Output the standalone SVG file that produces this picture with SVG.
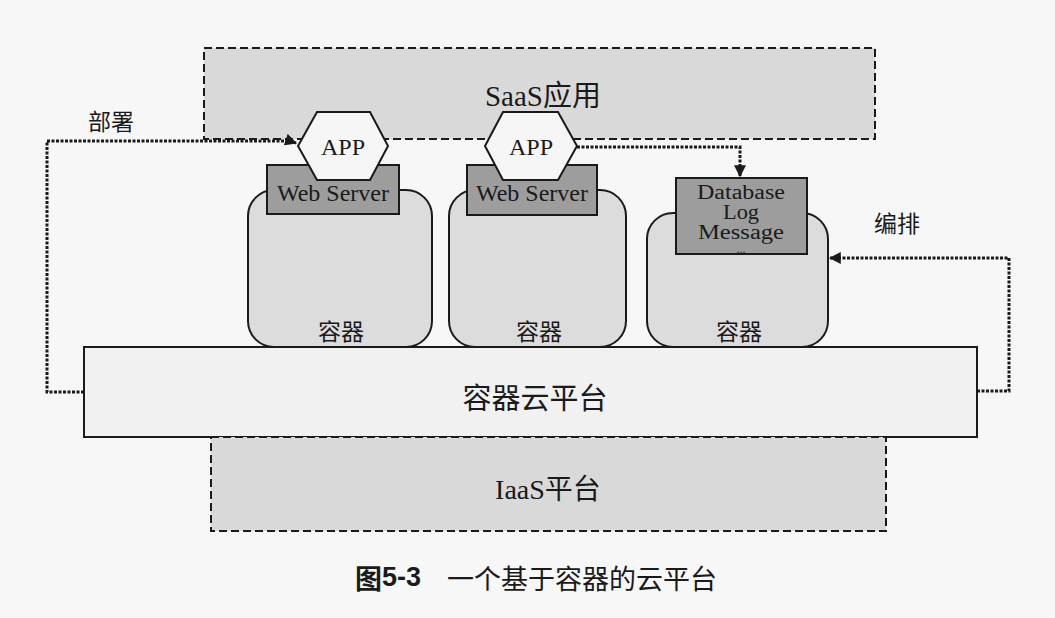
<svg xmlns="http://www.w3.org/2000/svg" width="1055" height="618" viewBox="0 0 1055 618">
  <defs>
    <marker id="arr" viewBox="0 0 10 10" refX="9" refY="5" markerWidth="4" markerHeight="4" orient="auto" markerUnits="strokeWidth">
      <path d="M0,0 L10,5 L0,10 Z" fill="#1a1a1a"/>
    </marker>
  </defs>
  <style>
    text { font-family: "Liberation Serif", "Noto Sans CJK SC", serif; fill: #1a1a1a; text-anchor: middle; dominant-baseline: central; }
    .cjk { font-family: "Noto Sans CJK SC", sans-serif; }
    .start { text-anchor: start; }
    .dash { fill: #d9d9d9; stroke: #1a1a1a; stroke-width: 2; stroke-dasharray: 8 4; }
    .cont { fill: #dcdcdc; stroke: #1a1a1a; stroke-width: 2; }
    .ws { fill: #9d9d9d; stroke: #1a1a1a; stroke-width: 2; }
    .hex { fill: #f6f6f6; stroke: #1a1a1a; stroke-width: 2; }
    .dot { fill: none; stroke: #1a1a1a; stroke-width: 3; stroke-dasharray: 3 1.5; }
    .svc { font-size: 20px; }
  </style>
  <rect width="1055" height="618" fill="#f7f7f7"/>

  <g id="saas">
    <rect class="dash" x="204" y="48" width="671" height="91"/>
    <text x="543" y="96" font-size="29">SaaS应用</text>
  </g>

  <g id="container1">
    <rect class="cont" x="248" y="190" width="184" height="157" rx="26"/>
    <text class="cjk" x="341" y="330" font-size="23">容器</text>
  </g>
  <g id="container2">
    <rect class="cont" x="449" y="190" width="177" height="157" rx="26"/>
    <text class="cjk" x="539" y="330" font-size="23">容器</text>
  </g>
  <g id="container3">
    <rect class="cont" x="647" y="213" width="181" height="134" rx="26"/>
    <text class="cjk" x="739" y="330" font-size="23">容器</text>
  </g>

  <g id="webserver1">
    <rect class="ws" x="267" y="165" width="132" height="49"/>
    <text x="333" y="193" font-size="24">Web Server</text>
  </g>
  <g id="webserver2">
    <rect class="ws" x="467" y="165" width="130" height="50"/>
    <text x="532" y="193" font-size="24">Web Server</text>
  </g>
  <g id="services">
    <rect class="ws" x="676" y="178" width="131" height="76"/>
    <text class="svc" x="741" y="192" textLength="88" lengthAdjust="spacingAndGlyphs">Database</text>
    <text class="svc" x="741" y="212" textLength="36" lengthAdjust="spacingAndGlyphs">Log</text>
    <text class="svc" x="741" y="232" textLength="86" lengthAdjust="spacingAndGlyphs">Message</text>
    <text x="741" y="249" font-size="12">...</text>
  </g>

  <g id="app1">
    <polygon class="hex" points="298,146 317,112 370,112 388,146 370,180 317,180"/>
    <text x="343" y="147" font-size="24">APP</text>
  </g>
  <g id="app2">
    <polygon class="hex" points="485,146 503,112 558,112 577,146 558,180 503,180"/>
    <text x="531" y="147" font-size="24">APP</text>
  </g>

  <g id="platform">
    <rect x="84" y="347" width="893" height="90" fill="#f1f1f1" stroke="#1a1a1a" stroke-width="2"/>
    <text class="cjk" x="535" y="396" font-size="29">容器云平台</text>
  </g>

  <g id="iaas">
    <rect class="dash" x="211" y="437" width="675" height="94"/>
    <text x="548" y="489" font-size="28">IaaS平台</text>
  </g>

  <g id="connectors">
    <path class="dot" d="M84,392 H47 V141 H290 L296,143" marker-end="url(#arr)"/>
    <path class="dot" d="M577,147 H740 V176" marker-end="url(#arr)"/>
    <path class="dot" d="M977,391 H1009 V258 H830" marker-end="url(#arr)"/>
  </g>

  <g id="labels">
    <text class="cjk" x="111" y="120" font-size="23">部署</text>
    <text class="cjk" x="897" y="222" font-size="23">编排</text>
  </g>

  <g id="caption">
    <text class="start" x="355" y="577" font-size="27"><tspan class="cjk" font-weight="bold">图</tspan><tspan font-family="Liberation Sans" font-weight="bold">5-3</tspan><tspan class="cjk" dx="26">一个基于容器的云平台</tspan></text>
  </g>
</svg>
